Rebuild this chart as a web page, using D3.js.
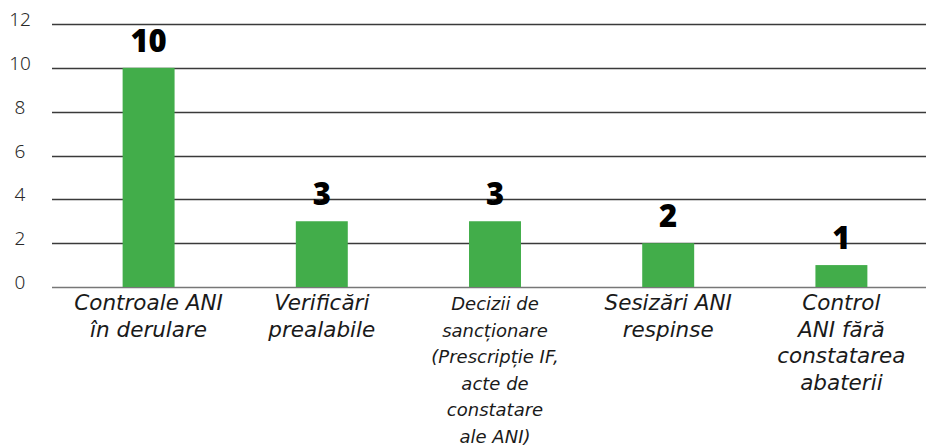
<!DOCTYPE html>
<html>
<head>
<meta charset="utf-8">
<script src="https://cdn.jsdelivr.net/npm/d3@7/dist/d3.min.js"></script>
<style>
  body { margin: 0; background: #fff; }
  svg { display: block; }
</style>
</head>
<body>
<div id="chart"></div>
<script>
// chart data
var categories = [
	"Controale ANI\nîn derulare",
	"Verificări\nprealabile",
	"Decizii de\nsancționare\n(Prescripție IF,\nacte de\nconstatare\nale ANI)",
	"Sesizări ANI\nrespinse",
	"Control\nANI fără\nconstatarea\nabaterii"
]
var values = [10, 3, 3, 2, 1]
var yTicks = [0, 2, 4, 6, 8, 10, 12]

var width = 926, height = 446
var barColor = "#42ad4a"
var font = "'Noto Sans', 'DejaVu Sans', sans-serif"
var labelFont = "'DejaVu Sans', 'Noto Sans', sans-serif"

var svg = d3.select("#chart").append("svg")
	.attr("width", width)
	.attr("height", height)

var x = d3.scaleBand()
	.domain(categories)
	.range([62, 928])
	.paddingInner(0.7)
	.paddingOuter(0.35)

var y = d3.scaleLinear()
	.domain([0, 12])
	.range([287, 24])

// gridlines
svg.append("g").selectAll("line")
	.data(yTicks)
	.enter().append("line")
		.attr("x1", 52)
		.attr("x2", width)
		.attr("y1", function(d) { return Math.round(y(d)) + 0.5 })
		.attr("y2", function(d) { return Math.round(y(d)) + 0.5 })
		.style("stroke", function(d) { return d == 0 ? "#777" : "#3a3a3a" })
		.style("stroke-width", "1.3px")

// y tick labels
svg.append("g").selectAll("text")
	.data(yTicks)
	.enter().append("text")
		.attr("x", 20)
		.attr("y", function(d) { return y(d) + 2 })
		.attr("text-anchor", "middle")
		.style("font-family", font)
		.style("font-weight", 300)
		.style("font-size", "19px")
		.style("fill", "#2a2a2a")
		.text(function(d) { return d })

// bars
svg.append("g").selectAll("rect")
	.data(values)
	.enter().append("rect")
		.attr("x", function(d, i) { return x(categories[i]) })
		.attr("y", function(d) { return y(d) })
		.attr("width", x.bandwidth())
		.attr("height", function(d) { return y(0) - y(d) })
		.style("fill", barColor)

// value labels
svg.append("g").selectAll("text")
	.data(values)
	.enter().append("text")
		.attr("x", function(d, i) { return x(categories[i]) + x.bandwidth() / 2 })
		.attr("y", function(d) { return y(d) - 16 })
		.attr("text-anchor", "middle")
		.style("font-family", font)
		.style("font-weight", 900)
		.style("font-size", "31px")
		.style("fill", "#000")
		.text(function(d) { return d })

// category labels, broken by hand as in the source
var catGroup = svg.append("g")
categories.forEach(function(cat, i) {
	var lines = cat.split("\n")
	var fontSize = lines.length > 4 ? 18 : 21.5
	var t = catGroup.append("text")
		.attr("x", x(cat) + x.bandwidth() / 2)
		.attr("y", 310)
		.attr("text-anchor", "middle")
		.style("font-family", labelFont)
		.style("font-style", "italic")
		.style("font-size", fontSize + "px")
		.style("fill", "#1a1a1a")
	lines.forEach(function(line, j) {
		t.append("tspan")
			.attr("x", x(cat) + x.bandwidth() / 2)
			.attr("y", 310 + j * 26.6)
			.text(line)
	})
})
</script>
</body>
</html>
